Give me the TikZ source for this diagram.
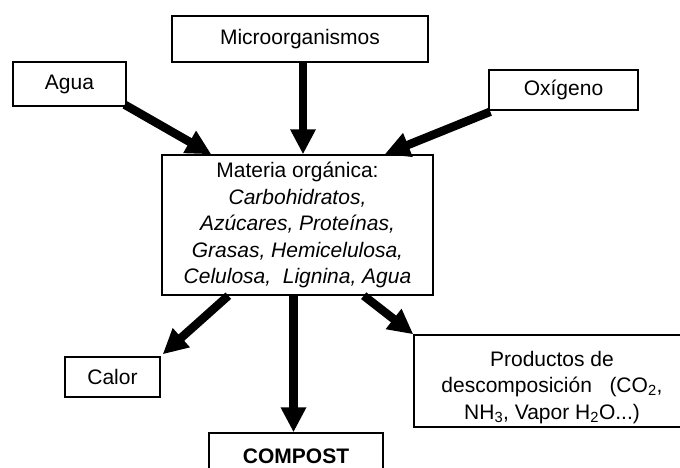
\documentclass[tikz,border=0pt]{standalone}
\usepackage{fontspec}
\setmainfont{Liberation Sans}
\usetikzlibrary{arrows.meta, positioning}

\begin{document}
\begin{tikzpicture}[
    x=1pt, y=-1pt,
    box/.style={
        rectangle, draw=black, line width=1.4pt, fill=white,
        inner sep=0pt, align=center,
        font=\fontsize{21}{26.5}\selectfont
    },
    arr/.style={-{Triangle[length=25pt,width=24pt]}, line width=8.5pt, color=black}
]
\useasboundingbox (0,0) rectangle (680,468);
\clip (0,0) rectangle (680,468);

\node[box, minimum width=256pt, minimum height=46pt] (micro) at (300,39) {Microorganismos};
\node[box, minimum width=113pt, minimum height=44pt] (agua)  at (69.5,84) {Agua};
\node[box, minimum width=149pt, minimum height=40pt] (oxi)   at (563.5,90) {Oxígeno};

\node[box, minimum width=271pt, minimum height=140pt] (mat) at (297.5,225)
    {Materia orgánica:\\
     \textit{Carbohidratos,}\\
     \textit{Azúcares, Proteínas,}\\
     \textit{Grasas, Hemicelulosa,}\\
     \textit{Celulosa,\ \ Lignina, Agua}};

\node[box, minimum width=95pt, minimum height=40pt] (calor) at (112.5,377) {Calor};
\node[box, minimum width=276pt, minimum height=92pt] (prod) at (552,381)
    {\rule{0pt}{28pt}Productos de\\
     descomposición\ \ \ (CO\textsubscript{2},\\
     NH\textsubscript{3}, Vapor H\textsubscript{2}O...)};
\node[box, minimum width=174pt, minimum height=60pt, font=\fontsize{21}{26.5}\selectfont\bfseries] (comp) at (296,463)
    {\raisebox{14pt}{COMPOST}};

% entradas
\draw[arr] ([shift={(-2,-2)}]agua.south east) -- ([xshift=50pt]mat.north west);
\draw[arr] ([xshift=3pt]micro.south) -- ([xshift=3pt]micro.south |- mat.north);
\draw[arr] ([shift={(2,1)}]oxi.south west) -- ([xshift=-49pt]mat.north east);

% salidas
\draw[arr] ([xshift=67pt]mat.south west) -- ([shift={(2,-2)}]calor.north east);
\draw[arr] ([xshift=-4pt]mat.south) -- ([xshift=-4pt]mat.south |- comp.north);
\draw[arr] ([xshift=-70pt]mat.south east) -- (prod.north west);

\end{tikzpicture}
\end{document}
